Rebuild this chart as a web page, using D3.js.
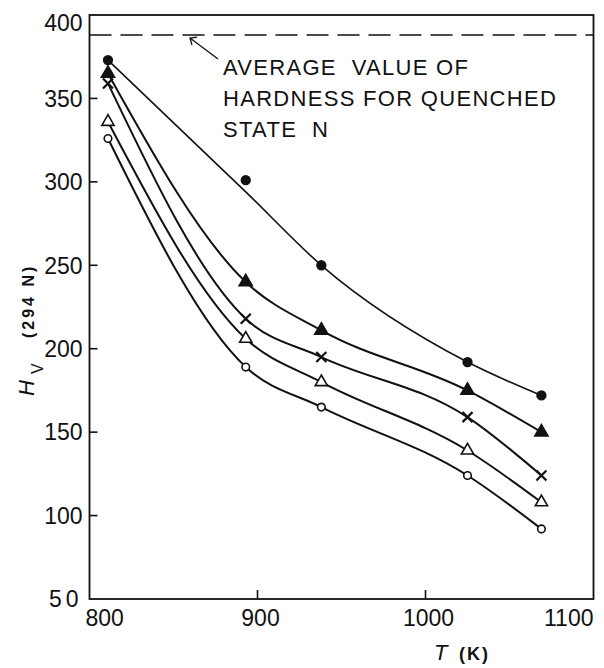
<!DOCTYPE html>
<html>
<head>
<meta charset="utf-8">
<script src="https://cdn.jsdelivr.net/npm/d3@7"></script>
<style>
  body { margin: 0; background: #fff; }
  text { font-family: "Liberation Sans", Arial, sans-serif; fill: #111; }
</style>
</head>
<body>
<div id="vis"></div>
<script>
// temperatures (K) and hardness values
var temps = [811, 893, 938, 1025, 1069];
var filledCircle = [373, 301, 250, 192, 172];
var filledCircleFit = [373, 294, 250, 192, 172];
var filledTri = [365, 240, 211, 175, 150];
var cross = [359, 218, 195, 159, 124];
var openTri = [336, 206, 180, 139, 108];
var openCircle = [326, 189, 165, 124, 92];
var quenched = 388;

var xTicks = [800, 900, 1000, 1100];
var yTicks = [50, 100, 150, 200, 250, 300, 350, 400];
var note = ["AVERAGE  VALUE OF", "HARDNESS FOR QUENCHED", "STATE  N"];

var w = 604;
var h = 668;

var svg = d3.select("#vis")
            .append("svg")
            .attr("width", w)
            .attr("height", h);

var x_scale = d3.scaleLinear()
                .domain([800, 1100])
                .range([89.5, 593.5]);

var y_scale = d3.scaleLinear()
                .domain([50, 400])
                .range([599, 15]);

var series = [
  {vals: filledTri, line: filledTri, sym: d3.symbolTriangle, size: 75, fill: "#111", width: 2},
  {vals: cross, line: cross, sym: d3.symbolCross, size: 0, fill: "none", width: 2},
  {vals: openTri, line: openTri, sym: d3.symbolTriangle, size: 65, fill: "#fff", width: 2},
  {vals: openCircle, line: openCircle, sym: d3.symbolCircle, size: 45, fill: "#fff", width: 2},
  {vals: filledCircle, line: filledCircleFit, sym: d3.symbolCircle, size: 60, fill: "#111", width: 1.6}
];

var line = d3.line()
             .x((d, i) => x_scale(temps[i]))
             .y(d => y_scale(d))
             .curve(d3.curveMonotoneX);

// frame
svg.append("rect")
   .attr("x", x_scale(800))
   .attr("y", y_scale(400))
   .attr("width", x_scale(1100) - x_scale(800))
   .attr("height", y_scale(50) - y_scale(400))
   .attr("fill", "none")
   .attr("stroke", "#111")
   .attr("stroke-width", 1.8);

// inward ticks
svg.append("g")
   .selectAll("line")
   .data(yTicks.slice(1, -1))
   .enter()
   .append("line")
   .attr("x1", x_scale(800))
   .attr("x2", x_scale(800) + 8)
   .attr("y1", d => y_scale(d))
   .attr("y2", d => y_scale(d))
   .attr("stroke", "#111")
   .attr("stroke-width", 1.6);

svg.append("g")
   .selectAll("line")
   .data(xTicks.slice(1, -1))
   .enter()
   .append("line")
   .attr("x1", d => x_scale(d))
   .attr("x2", d => x_scale(d))
   .attr("y1", y_scale(50))
   .attr("y2", y_scale(50) - 9)
   .attr("stroke", "#111")
   .attr("stroke-width", 1.6);

svg.append("g")
   .selectAll("text")
   .data(yTicks)
   .enter()
   .append("text")
   .attr("x", x_scale(800) - 7)
   .attr("y", d => y_scale(d) + (d == 400 ? 8 : 0))
   .attr("dy", "0.36em")
   .attr("text-anchor", "end")
   .attr("font-size", 23)
   .attr("letter-spacing", d => d == 50 ? 4 : 0)
   .text(d => d);

svg.append("g")
   .selectAll("text")
   .data(xTicks)
   .enter()
   .append("text")
   .attr("x", d => d == 800 ? x_scale(d) - 4 : d == 1100 ? x_scale(d) : x_scale(d) + 3)
   .attr("y", 626)
   .attr("text-anchor", d => d == 800 ? "start" : d == 1100 ? "end" : "middle")
   .attr("font-size", 23)
   .text(d => d);

// axis titles
svg.append("text")
   .attr("transform", "translate(34,396) rotate(-90)")
   .attr("font-size", 22)
   .attr("font-style", "italic")
   .text("H");
svg.append("text")
   .attr("transform", "translate(43,374) rotate(-90)")
   .attr("font-size", 16)
   .text("V");
svg.append("text")
   .attr("transform", "translate(34,338) rotate(-90)")
   .attr("font-size", 16)
   .attr("font-weight", "bold")
   .attr("letter-spacing", 3)
   .text("(294 N)");

svg.append("text")
   .attr("x", 434)
   .attr("y", 660)
   .attr("font-size", 22)
   .attr("font-style", "italic")
   .text("T");
svg.append("text")
   .attr("x", 459)
   .attr("y", 660)
   .attr("font-size", 18)
   .attr("font-weight", "bold")
   .attr("letter-spacing", 2)
   .text("(K)");

// quenched state reference line + note
svg.append("line")
   .attr("x1", x_scale(800))
   .attr("x2", x_scale(1100))
   .attr("y1", y_scale(quenched))
   .attr("y2", y_scale(quenched))
   .attr("stroke", "#111")
   .attr("stroke-width", 1.5)
   .attr("stroke-dasharray", "22,9");

var tip = [190, y_scale(quenched) + 3];
svg.append("path")
   .attr("d", `M218,59 L${tip[0]},${tip[1]} M${tip[0] + 7},${tip[1] - 1} L${tip[0]},${tip[1]} L${tip[0] + 2},${tip[1] + 7}`)
   .attr("fill", "none")
   .attr("stroke", "#111")
   .attr("stroke-width", 1.3);

svg.append("g")
   .selectAll("text")
   .data(note)
   .enter()
   .append("text")
   .attr("x", 223)
   .attr("y", (d, i) => 75 + i * 31)
   .attr("font-size", 22)
   .attr("letter-spacing", 1.3)
   .style("white-space", "pre")
   .text(d => d);

// curves
svg.append("g")
   .selectAll("path")
   .data(series)
   .enter()
   .append("path")
   .attr("d", d => line(d.line))
   .attr("fill", "none")
   .attr("stroke", "#111")
   .attr("stroke-width", d => d.width);

// markers
series.forEach(function(s) {
  var g = svg.append("g");
  if (s.size == 0) {
    g.selectAll("path")
     .data(s.vals)
     .enter()
     .append("path")
     .attr("transform", (d, i) => `translate(${x_scale(temps[i])},${y_scale(d)})`)
     .attr("d", "M-5,-5L5,5M-5,5L5,-5")
     .attr("stroke", "#111")
     .attr("stroke-width", 2.2);
  } else {
    g.selectAll("path")
     .data(s.vals)
     .enter()
     .append("path")
     .attr("transform", (d, i) => `translate(${x_scale(temps[i])},${y_scale(d)})`)
     .attr("d", d3.symbol().type(s.sym).size(s.size))
     .attr("fill", s.fill)
     .attr("stroke", "#111")
     .attr("stroke-width", 1.6);
  }
});
</script>
</body>
</html>
